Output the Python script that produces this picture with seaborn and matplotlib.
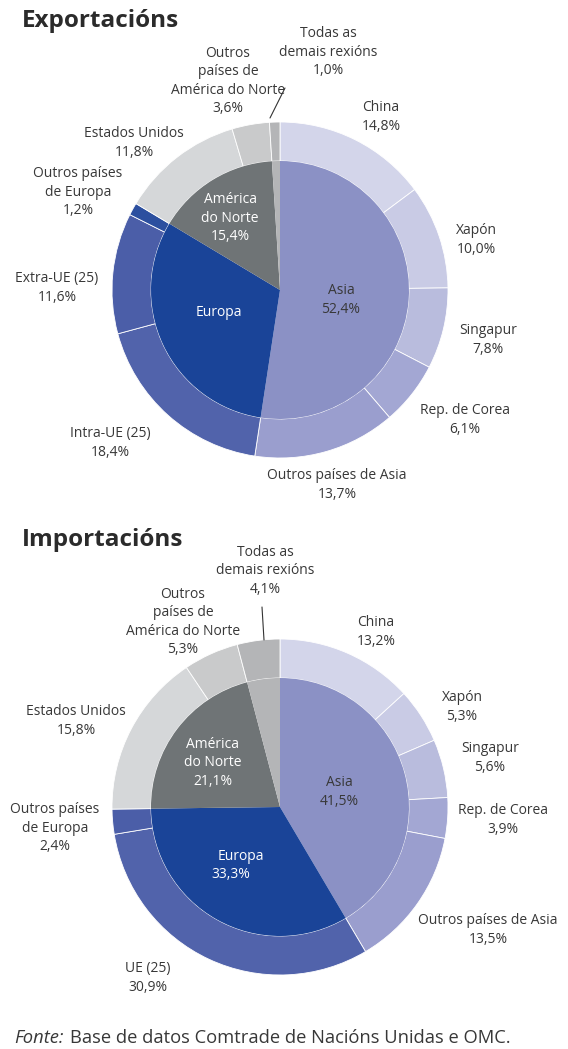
import matplotlib
matplotlib.use("Agg")
import matplotlib.pyplot as plt
import seaborn as sns

sns.set_theme(style="white")
plt.rcParams['font.family'] = ['Open Sans', 'DejaVu Sans']

# --- data ---
exp_inner_labels = ["Asia", "Europa", "América do Norte", "Todas as demais rexións"]
exp_inner_values = [52.4, 31.2, 15.4, 1.0]
exp_outer_labels = ["China", "Xapón", "Singapur", "Rep. de Corea", "Outros países de Asia",
                    "Intra-UE (25)", "Extra-UE (25)", "Outros países de Europa",
                    "Estados Unidos", "Outros países de América do Norte",
                    "Todas as demais rexións"]
exp_outer_values = [14.8, 10.0, 7.8, 6.1, 13.7, 18.4, 11.6, 1.2, 11.8, 3.6, 1.0]

imp_inner_labels = ["Asia", "Europa", "América do Norte", "Todas as demais rexións"]
imp_inner_values = [41.5, 33.3, 21.1, 4.1]
imp_outer_labels = ["China", "Xapón", "Singapur", "Rep. de Corea", "Outros países de Asia",
                    "UE (25)", "Outros países de Europa",
                    "Estados Unidos", "Outros países de América do Norte",
                    "Todas as demais rexións"]
imp_outer_values = [13.2, 5.3, 5.6, 3.9, 13.5, 30.9, 2.4, 15.8, 5.3, 4.1]

# --- colours ---
inner_colors = ["#8b91c5", "#1a4498", "#6f7476", "#b4b5b7"]
exp_outer_colors = ["#d3d5ea", "#c9cbe5", "#b9bcdd", "#a3a7d3", "#9a9ece",
                    "#5163ab", "#4b5ea8", "#2c4f9f",
                    "#d5d7d9", "#c9cacb", "#b4b5b7"]
imp_outer_colors = ["#d3d5ea", "#c9cbe5", "#b9bcdd", "#a3a7d3", "#9a9ece",
                    "#5163ab", "#4b5ea8",
                    "#d5d7d9", "#c9cacb", "#b4b5b7"]

W, H = 568, 1049
TXT = "#383838"
FS = 10

fig = plt.figure(figsize=(W / 100, H / 100), dpi=100)
ax = fig.add_axes([0, 0, 1, 1])


def Y(y):
    # image pixel row -> data y
    return H - y


def donut(cx, cy, inner_vals, outer_vals, outer_cols):
    ax.pie(outer_vals, radius=168, center=(cx, Y(cy)), startangle=90,
           counterclock=False, colors=outer_cols,
           wedgeprops=dict(width=39, edgecolor="white", linewidth=0.6))
    ax.pie(inner_vals, radius=129, center=(cx, Y(cy)), startangle=90,
           counterclock=False, colors=inner_colors,
           wedgeprops=dict(linewidth=0))


def label(x, y, s, color=TXT, size=FS):
    ax.text(x, Y(y), s, ha="center", va="center", color=color, fontsize=size,
            linespacing=1.32)


# ---------- Exportacións ----------
donut(280, 290, exp_inner_values, exp_outer_values, exp_outer_colors)
ax.text(22, Y(21), "Exportacións", fontsize=17.5, fontweight="bold", color="#2b2b2b",
        ha="left", va="center")
label(328, 52, "Todas as\ndemais rexións\n1,0%")
label(228, 81, "Outros\npaíses de\nAmérica do Norte\n3,6%")
ax.plot([285, 270], [Y(88), Y(118)], color="#333333", lw=0.8)
label(381, 117, "China\n14,8%")
label(476, 240, "Xapón\n10,0%")
label(488, 340, "Singapur\n7,8%")
label(465, 420, "Rep. de Corea\n6,1%")
label(337, 485, "Outros países de Asia\n13,7%")
label(110, 443, "Intra-UE (25)\n18,4%")
label(57, 288, "Extra-UE (25)\n11,6%")
label(78, 192, "Outros países\nde Europa\n1,2%")
label(134, 143, "Estados Unidos\n11,8%")
label(230, 218, "América\ndo Norte\n15,4%", color="white")
label(219, 313, "Europa", color="white")
label(341, 300, "Asia\n52,4%")

# ---------- Importacións ----------
donut(280, 807, imp_inner_values, imp_outer_values, imp_outer_colors)
ax.text(22, Y(540), "Importacións", fontsize=17.5, fontweight="bold", color="#2b2b2b",
        ha="left", va="center")
label(265, 571, "Todas as\ndemais rexións\n4,1%")
label(183, 622, "Outros\npaíses de\nAmérica do Norte\n5,3%")
ax.plot([262, 264], [Y(607), Y(640)], color="#333333", lw=0.8)
label(376, 632, "China\n13,2%")
label(462, 707, "Xapón\n5,3%")
label(490, 758, "Singapur\n5,6%")
label(503, 820, "Rep. de Corea\n3,9%")
label(488, 930, "Outros países de Asia\n13,5%")
label(148, 978, "UE (25)\n30,9%")
label(55, 828, "Outros países\nde Europa\n2,4%")
label(76, 721, "Estados Unidos\n15,8%")
label(213, 763, "América\ndo Norte\n21,1%", color="white")
label(241, 856, "Europa", color="white")
label(231, 875, "33,3%", color="white")
label(339, 792, "Asia\n41,5%")

# ---------- source ----------
ax.text(14, Y(1038), "Fonte:", fontsize=13.2, style="italic", color=TXT,
        ha="left", va="center")
ax.text(70, Y(1038), "Base de datos Comtrade de Nacións Unidas e OMC.",
        fontsize=13.2, color=TXT, ha="left", va="center")

ax.set_xlim(0, W)
ax.set_ylim(0, H)
ax.set_aspect("equal")
ax.axis("off")

fig.savefig("out.png", dpi=100)
